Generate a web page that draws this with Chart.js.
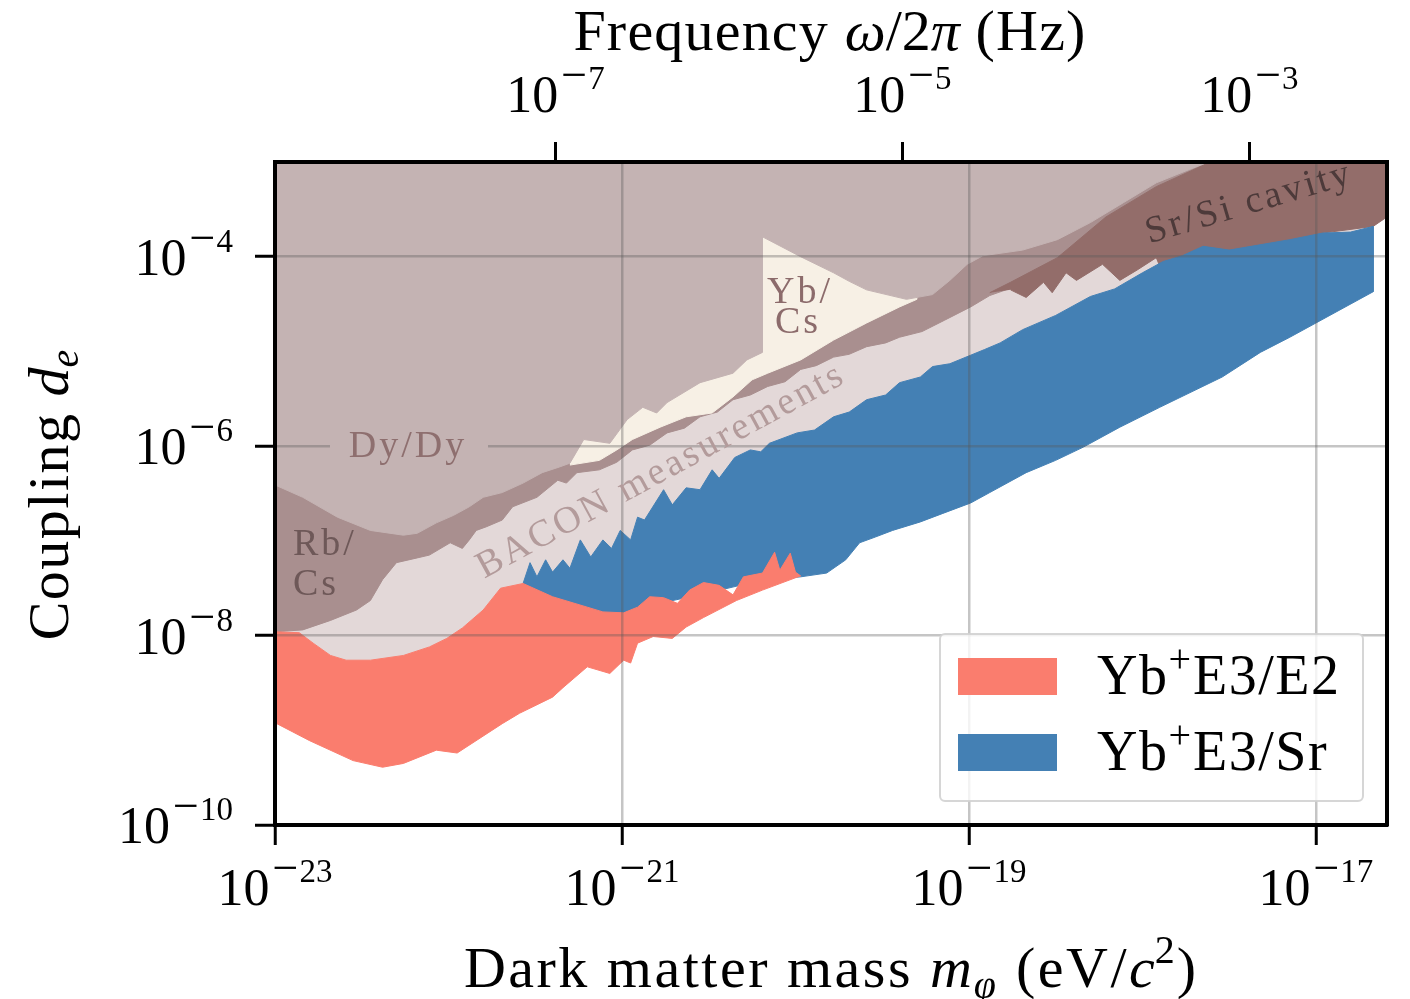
<!DOCTYPE html>
<html>
<head>
<meta charset="utf-8">
<script src="https://cdn.jsdelivr.net/npm/chart.js@4.4.1/dist/chart.umd.min.js"></script>
<style>
  html, body { margin: 0; padding: 0; background: #fff; }
</style>
</head>
<body>
<canvas id="limitsChart" width="1410" height="999"></canvas>
<script>
// all outlines are log10 values: mass in eV/c^2, coupling d_e
const baconMass = [-23.00, -22.86, -22.78, -22.68, -22.59, -22.45, -22.26, -22.11, -22.01, -21.92, -21.80, -21.70, -21.57, -21.13, -20.55, -19.97, -19.40, -18.82, -18.25, -17.65, -17.09, -16.67, -16.67, -23.00];
const baconCoupling = [-7.96, -7.97, -8.08, -8.21, -8.26, -8.26, -8.21, -8.12, -8.03, -7.92, -7.73, -7.50, -7.45, -7.47, -6.89, -6.25, -5.72, -5.19, -4.67, -4.19, -4.05, -4.05, -3.00, -3.00];

const rbCsMass = [-23.00, -22.84, -22.68, -22.53, -22.45, -22.38, -22.30, -22.18, -22.11, -21.99, -21.92, -21.88, -21.84, -21.78, -21.69, -21.63, -21.49, -21.37, -21.32, -21.26, -21.13, -21.03, -20.94, -20.84, -20.74, -20.64, -20.55, -20.45, -20.36, -20.26, -20.16, -20.06, -19.97, -19.88, -19.78, -19.69, -19.59, -19.48, -19.40, -19.27, -19.14, -18.99, -18.88, -18.71, -18.53, -18.25, -17.96, -17.65, -17.09, -17.09, -23.00];
const rbCsCoupling = [-7.96, -7.94, -7.84, -7.73, -7.63, -7.41, -7.23, -7.18, -7.15, -7.02, -7.08, -6.99, -6.89, -6.85, -6.78, -6.64, -6.54, -6.36, -6.39, -6.28, -6.25, -6.17, -6.04, -5.99, -5.86, -5.81, -5.69, -5.64, -5.51, -5.46, -5.37, -5.32, -5.19, -5.15, -5.06, -5.03, -4.95, -4.91, -4.85, -4.79, -4.67, -4.53, -4.41, -4.30, -4.19, -3.98, -3.87, -3.77, -3.71, -3.00, -3.00];

const ybCsMass = [-21.30, -21.13, -21.03, -20.94, -20.78, -20.63, -20.48, -20.36, -20.25, -20.16, -19.97, -19.78, -19.59, -19.40, -19.30, -19.30, -21.30];
const ybCsCoupling = [-6.20, -6.15, -6.04, -5.93, -5.80, -5.69, -5.65, -5.48, -5.30, -5.23, -5.09, -4.88, -4.70, -4.53, -4.45, -3.00, -3.00];

const srSiMass = [-18.88, -18.76, -18.49, -18.21, -17.92, -17.62, -16.59, -16.59, -16.67, -16.96, -17.34, -17.54, -17.65, -17.78, -17.88, -17.92, -18.03, -18.13, -18.23, -18.38, -18.44, -18.52, -18.57, -18.67, -18.76];
const srSiCoupling = [-4.38, -4.27, -4.01, -3.58, -3.26, -3.01, -3.00, -3.58, -3.68, -3.75, -3.93, -3.98, -3.89, -4.01, -4.19, -4.01, -4.14, -4.25, -4.08, -4.25, -4.17, -4.38, -4.27, -4.43, -4.35];

const dyDyMass = [-23.00, -22.84, -22.64, -22.45, -22.26, -22.18, -22.07, -21.97, -21.88, -21.80, -21.69, -21.57, -21.46, -21.36, -21.30, -21.22, -21.07, -20.97, -20.88, -20.80, -20.74, -20.55, -20.36, -20.28, -20.19, -20.19, -19.97, -19.78, -19.69, -19.59, -19.36, -19.21, -19.11, -19.01, -18.92, -18.69, -18.49, -18.30, -18.11, -17.92, -17.73, -17.62, -23.00];
const dyDyCoupling = [-6.41, -6.54, -6.75, -6.89, -6.94, -6.92, -6.81, -6.73, -6.64, -6.54, -6.49, -6.39, -6.28, -6.22, -6.18, -5.93, -5.97, -5.72, -5.59, -5.65, -5.54, -5.33, -5.23, -5.09, -5.01, -3.79, -4.00, -4.17, -4.26, -4.35, -4.45, -4.40, -4.25, -4.08, -3.99, -3.93, -3.82, -3.64, -3.43, -3.22, -3.08, -3.00, -3.00];

const e3SrMass = [-21.57, -21.53, -21.49, -21.44, -21.40, -21.34, -21.30, -21.24, -21.18, -21.11, -21.06, -21.01, -20.95, -20.91, -20.87, -20.76, -20.71, -20.63, -20.55, -20.48, -20.44, -20.35, -20.26, -20.20, -20.15, -19.99, -19.89, -19.78, -19.69, -19.59, -19.48, -19.40, -19.28, -19.21, -19.11, -18.99, -18.91, -18.82, -18.69, -18.50, -18.30, -18.16, -18.00, -17.88, -17.77, -17.65, -17.50, -17.34, -17.15, -16.96, -16.80, -16.67, -16.67, -17.15, -17.32, -17.54, -17.90, -18.13, -18.34, -18.50, -18.67, -18.88, -18.99, -19.15, -19.28, -19.44, -19.54, -19.63, -19.71, -19.82, -19.97, -20.15, -20.32, -20.55, -20.84, -21.01, -21.20, -21.40, -21.57];
const e3SrCoupling = [-7.45, -7.23, -7.38, -7.20, -7.33, -7.20, -7.29, -6.99, -7.17, -6.99, -7.08, -6.89, -6.99, -6.75, -6.78, -6.46, -6.62, -6.44, -6.46, -6.25, -6.34, -6.12, -6.04, -6.06, -5.97, -5.86, -5.83, -5.69, -5.64, -5.51, -5.46, -5.33, -5.27, -5.16, -5.13, -5.04, -4.98, -4.91, -4.77, -4.62, -4.42, -4.34, -4.17, -4.05, -3.99, -3.89, -3.93, -3.88, -3.82, -3.75, -3.74, -3.68, -4.37, -4.85, -5.01, -5.27, -5.59, -5.80, -6.01, -6.15, -6.28, -6.49, -6.60, -6.71, -6.80, -6.89, -6.96, -7.02, -7.20, -7.34, -7.38, -7.41, -7.47, -7.57, -7.68, -7.82, -7.75, -7.65, -7.47];

const e3E2Mass = [-23.00, -22.86, -22.78, -22.68, -22.59, -22.45, -22.26, -22.11, -22.01, -21.92, -21.80, -21.70, -21.57, -21.40, -21.20, -21.11, -20.99, -20.91, -20.84, -20.76, -20.68, -20.61, -20.53, -20.44, -20.36, -20.30, -20.19, -20.12, -20.09, -20.03, -20.00, -19.97, -20.00, -20.19, -20.34, -20.53, -20.63, -20.71, -20.82, -20.91, -20.95, -20.99, -21.07, -21.20, -21.34, -21.40, -21.59, -21.69, -21.95, -22.07, -22.26, -22.38, -22.55, -22.80, -23.00];
const e3E2Coupling = [-7.96, -7.97, -8.08, -8.21, -8.26, -8.26, -8.21, -8.12, -8.03, -7.92, -7.73, -7.50, -7.45, -7.59, -7.70, -7.75, -7.76, -7.70, -7.59, -7.60, -7.66, -7.52, -7.44, -7.47, -7.57, -7.38, -7.34, -7.12, -7.31, -7.13, -7.33, -7.37, -7.39, -7.52, -7.63, -7.81, -7.91, -8.03, -8.01, -8.08, -8.29, -8.26, -8.40, -8.33, -8.55, -8.65, -8.82, -8.93, -9.24, -9.21, -9.35, -9.39, -9.32, -9.11, -8.92];

const massTicks = [1e-23, 1e-21, 1e-19, 1e-17];
const massTickExp = ['23', '21', '19', '17'];
const couplingTicks = [1e-10, 1e-8, 1e-6, 1e-4];
const couplingTickExp = ['10', '8', '6', '4'];
const freqTicks = [1e-7, 1e-5, 1e-3];
const freqTickExp = ['7', '5', '3'];
const legendLabels = ['E3/E2', 'E3/Sr'];

const massMin = 1e-23, massMax = 2.57e-17;
const couplingMin = 1e-10, couplingMax = 1e-3;
const EV_TO_HZ = 2.418e14; // m c^2 / h

const SERIF = "'Liberation Serif', 'DejaVu Serif', serif";
const GRID = 'rgba(90, 90, 90, 0.35)';
const COLORS = {
    dy: '#c4b3b3', rbcs: '#a98f8f', bacon: '#e3d8d8', ybcs: '#f7f0e5',
    srsi: '#936d6a', e2: '#fa7d6e', sr: '#4480b4'
};

const outline = (logM, logD) => logM.map((m, i) => ({ x: 10 ** m, y: 10 ** logD[i] }));

function region(label, logM, logD, color, order) {
    return {
        label,
        data: outline(logM, logD),
        showLine: true,
        fill: 'shape',
        backgroundColor: color,
        borderColor: color,
        borderWidth: 1,
        pointRadius: 0,
        pointHoverRadius: 0,
        tension: 0,
        order
    };
}

// write pieces of text one after the other (for superscripts, italics)
function drawRuns(ctx, runs, x, y, align) {
    ctx.save();
    ctx.textAlign = 'left';
    ctx.textBaseline = 'alphabetic';
    const widths = runs.map(r => {
        if (r.space) return r.space;
        ctx.font = r.font;
        ctx.letterSpacing = r.spacing || '0px';
        return ctx.measureText(r.text).width;
    });
    const total = widths.reduce((a, b) => a + b, 0);
    let cx = align === 'center' ? x - total / 2 : align === 'right' ? x - total : x;
    runs.forEach((r, i) => {
        if (!r.space) {
            ctx.font = r.font;
            ctx.letterSpacing = r.spacing || '0px';
            ctx.fillStyle = r.color || '#000';
            ctx.fillText(r.text, cx, y + (r.dy || 0));
        }
        cx += widths[i];
    });
    ctx.restore();
}

function powerRuns(exp) {
    return [
        { text: '10', font: '52px ' + SERIF },
        { space: 3 },
        { text: '\u2212', font: '46px ' + SERIF, dy: -22 },
        { space: 1 },
        { text: exp, font: '33px ' + SERIF, dy: -23 }
    ];
}

function annotate(ctx, text, x, y, color, angle, align) {
    ctx.save();
    ctx.translate(x, y);
    ctx.rotate(angle || 0);
    ctx.font = '38px ' + SERIF;
    ctx.letterSpacing = '3px';
    ctx.fillStyle = color;
    ctx.textAlign = align || 'left';
    ctx.textBaseline = 'alphabetic';
    ctx.fillText(text, 0, 0);
    ctx.restore();
}

const textPlugin = {
    id: 'figureText',
    afterDraw(chart) {
        const ctx = chart.ctx;
        const xs = chart.scales.x, ys = chart.scales.y, x2 = chart.scales.x2;

        // tick labels
        massTicks.forEach((v, i) => drawRuns(ctx, powerRuns(massTickExp[i]), xs.getPixelForValue(v), 905, 'center'));
        couplingTicks.forEach((v, i) => drawRuns(ctx, powerRuns(couplingTickExp[i]), 233, ys.getPixelForValue(v) + 18, 'right'));
        freqTicks.forEach((v, i) => drawRuns(ctx, powerRuns(freqTickExp[i]), x2.getPixelForValue(v), 112, 'center'));

        // axis titles
        const T = '58px ' + SERIF, TI = 'italic 58px ' + SERIF, S = 'italic 40px ' + SERIF;
        drawRuns(ctx, [
            { text: 'Dark matter mass ', font: T, spacing: '2.5px' }, { text: 'm', font: TI, spacing: '2px' },
            { text: '\u03c6', font: S, dy: 11 }, { space: 20 }, { text: '(eV/', font: T, spacing: '2.5px' },
            { text: 'c', font: TI }, { text: '2', font: '40px ' + SERIF, dy: -24 }, { space: 2 }, { text: ')', font: T }
        ], 830, 987, 'center');
        drawRuns(ctx, [
            { text: 'Frequency ', font: T, spacing: '1.2px' }, { text: '\u03c9', font: TI },
            { text: '/2', font: T }, { text: '\u03c0', font: TI }, { text: ' (Hz)', font: T, spacing: '1.2px' }
        ], 830, 50, 'center');
        ctx.save();
        ctx.translate(68, 495);
        ctx.rotate(-Math.PI / 2);
        drawRuns(ctx, [
            { text: 'Coupling ', font: T, spacing: '1.5px' }, { text: 'd', font: TI }, { text: 'e', font: S, dy: 10 }
        ], 0, 0, 'center');
        ctx.restore();

        // region labels
        ctx.fillStyle = COLORS.dy;
        ctx.fillRect(330, 436, 158, 22);
        annotate(ctx, 'Dy/Dy', 408, 457, '#8e6f6f', 0, 'center');
        annotate(ctx, 'Rb/', 293, 555, '#6e5858');
        annotate(ctx, 'Cs', 293, 595, '#6e5858');
        annotate(ctx, 'Yb/', 767, 303, '#8c6b6b');
        annotate(ctx, 'Cs', 775, 333, '#8c6b6b');
        annotate(ctx, 'BACON measurements', 666, 480, '#b39b9b', -28.5 * Math.PI / 180, 'center');
        annotate(ctx, 'Sr/Si cavity', 1252, 213, '#4d3a3a', -16.5 * Math.PI / 180, 'center');

        // legend
        ctx.save();
        ctx.beginPath();
        ctx.roundRect(940, 634, 423, 167, 5);
        ctx.fillStyle = 'rgba(255, 255, 255, 0.8)';
        ctx.fill();
        ctx.lineWidth = 2;
        ctx.strokeStyle = 'rgba(210, 210, 210, 0.9)';
        ctx.stroke();
        ctx.fillStyle = COLORS.e2;
        ctx.fillRect(958, 658, 99, 37);
        ctx.fillStyle = COLORS.sr;
        ctx.fillRect(958, 734, 99, 37);
        ctx.restore();
        legendLabels.forEach((lab, i) => drawRuns(ctx, [
            { text: 'Yb', font: '56px ' + SERIF, spacing: '1.5px' },
            { text: '+', font: '40px ' + SERIF, dy: -22 },
            { space: 2 },
            { text: lab, font: '56px ' + SERIF, spacing: '1.5px' }
        ], 1097, 694 + i * 76, 'left'));
    }
};

const tickSetter = (ticks) => (scale) => { scale.ticks = ticks.map(v => ({ value: v })); };
const spine = { color: '#000', width: 4, z: 2 };

new Chart(document.getElementById('limitsChart'), {
    type: 'scatter',
    data: {
        datasets: [
            region('BACON measurements', baconMass, baconCoupling, COLORS.bacon, 6),
            region('Rb/Cs', rbCsMass, rbCsCoupling, COLORS.rbcs, 5),
            region('Yb/Cs', ybCsMass, ybCsCoupling, COLORS.ybcs, 4),
            region('Sr/Si cavity', srSiMass, srSiCoupling, COLORS.srsi, 3),
            region('Dy/Dy', dyDyMass, dyDyCoupling, COLORS.dy, 2),
            region('Yb+ E3/Sr', e3SrMass, e3SrCoupling, COLORS.sr, 1),
            region('Yb+ E3/E2', e3E2Mass, e3E2Coupling, COLORS.e2, 0)
        ]
    },
    options: {
        responsive: false,
        animation: false,
        events: [],
        layout: { padding: { left: 255, right: 23, top: 142, bottom: 154 } },
        plugins: {
            legend: { display: false },
            tooltip: { enabled: false }
        },
        scales: {
            x: {
                type: 'logarithmic', position: 'bottom', min: massMin, max: massMax,
                afterBuildTicks: tickSetter(massTicks),
                ticks: { display: false },
                grid: { color: GRID, lineWidth: 2.5, z: 1, tickLength: 20, tickColor: '#000', tickWidth: 3 },
                border: spine
            },
            x2: {
                type: 'logarithmic', position: 'top', min: massMin * EV_TO_HZ, max: massMax * EV_TO_HZ,
                afterBuildTicks: tickSetter(freqTicks),
                ticks: { display: false },
                grid: { drawOnChartArea: false, z: 1, tickLength: 20, tickColor: '#000', tickWidth: 3 },
                border: spine
            },
            y: {
                type: 'logarithmic', position: 'left', min: couplingMin, max: couplingMax,
                afterBuildTicks: tickSetter(couplingTicks),
                ticks: { display: false },
                grid: { color: GRID, lineWidth: 2.5, z: 1, tickLength: 20, tickColor: '#000', tickWidth: 3 },
                border: spine
            },
            y2: {
                type: 'logarithmic', position: 'right', min: couplingMin, max: couplingMax,
                ticks: { display: false },
                grid: { display: false, drawTicks: false },
                border: spine
            }
        }
    },
    plugins: [textPlugin]
});
</script>
</body>
</html>
